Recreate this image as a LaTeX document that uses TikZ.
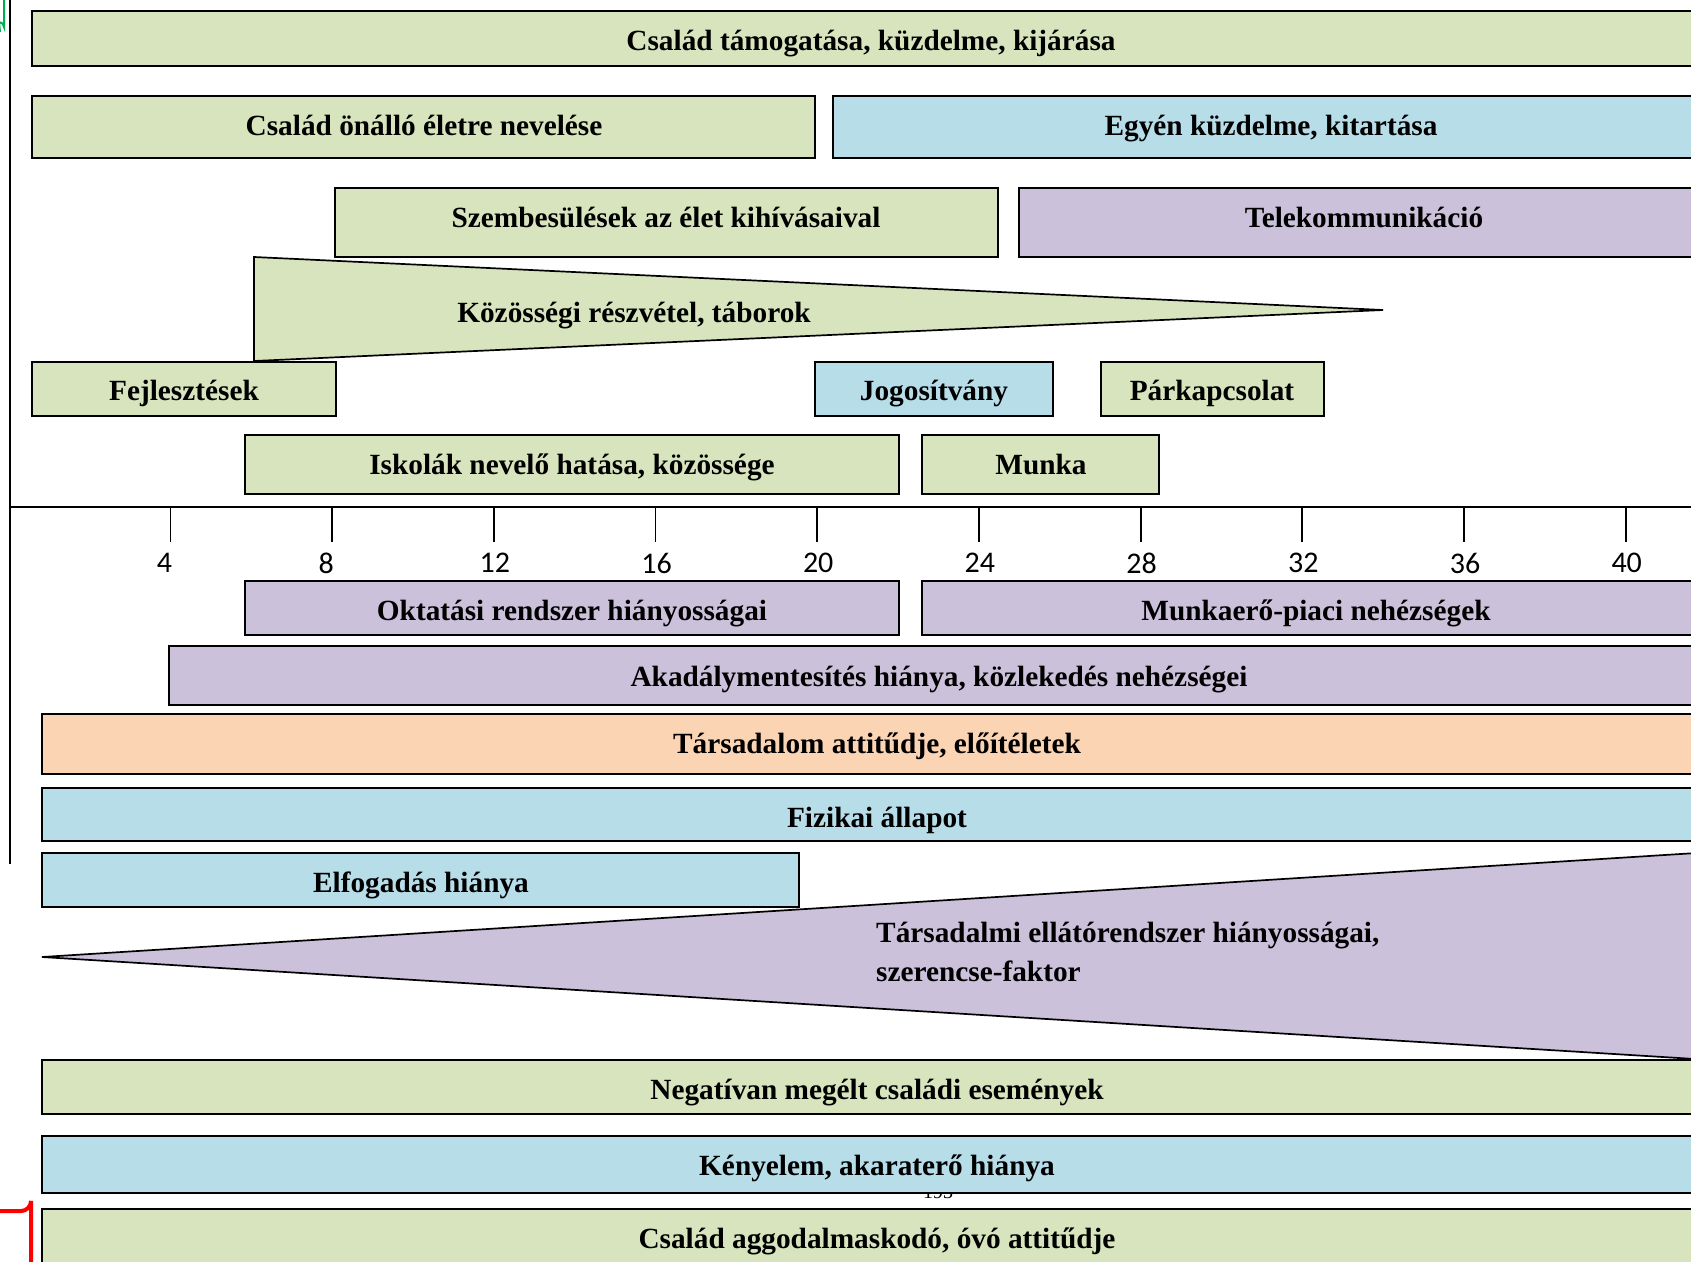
\documentclass[tikz,border=0pt]{standalone}
\usepackage{fontspec}
\usetikzlibrary{calc}
\setmainfont{Liberation Serif}
\newfontfamily\numfont{Carlito}
\definecolor{cgreen}{HTML}{D7E4BD}
\definecolor{cblue}{HTML}{B7DDE8}
\definecolor{cpurple}{HTML}{CCC1DA}
\definecolor{cpeach}{HTML}{FBD4B4}
\definecolor{artgreen}{HTML}{00B050}
\tikzset{
  bar/.style={draw=black, line width=1.7pt, line join=miter},
  lbl/.style={inner sep=0pt, text height=0.66em, text depth=0pt, yshift=-7pt, font=\bfseries\fontsize{29.3}{35}\selectfont},
  ticklbl/.style={inner sep=0pt, font=\numfont\fontsize{30}{33}\selectfont},
  axisline/.style={line width=2.2pt},
}
\begin{document}
\begin{tikzpicture}[x=1pt,y=-1pt]
\useasboundingbox (0,0) rectangle (1691,1261);
\clip (0,0) rectangle (1691,1261);
\fill[white] (0,0) rectangle (1691,1261);

% artefacts at the left edge
\draw[artgreen, line width=2pt] (4,0) -- (4,27) arc[start angle=0, end angle=-90, radius=5] -- (0,32);
\draw[red, line width=4pt] (0,1211) -- (21,1211) arc[start angle=90, end angle=0, radius=10] -- (31,1265);

% page number hidden behind the bars
\node[inner sep=0pt, anchor=base, font=\fontsize{20}{24}\selectfont] (pagenum) at (938,1198) {193};

% left vertical line and time axis
\draw[axisline] (10,0) -- (10,864);
\draw[axisline] (9,507) -- (1700,507);
\foreach \n [count=\i from 0] in {4,8,12,16,20,24,28,32,36,40} {
  \coordinate (tk\n) at ({170.4+\i*161.7},507);
  \draw[line width=1.8pt] (tk\n) -- ++(0,35);
}
\node[ticklbl] (l4) at ($(tk4)+(-6,56)$) {4};
\node[ticklbl] (l8) at ($(tk8)+(-6,56)$) {8};
\foreach \n in {12,16,20,24,28,32,36,40} {
  \node[ticklbl] (l\n) at ($(tk\n)+(1,56)$) {\n};
}

% upper bars
\draw[bar, fill=cgreen] (32,11) rectangle (1710,66);
\draw[bar, fill=cgreen] (32,96) rectangle (815,158);
\draw[bar, fill=cblue] (833,96) rectangle (1710,158);
\draw[bar, fill=cgreen] (335,188) rectangle (998,257);
\draw[bar, fill=cpurple] (1019,188) rectangle (1710,257);
\draw[bar, fill=cgreen] (254,257) -- (254,361) -- (1383,310) -- cycle;
\draw[bar, fill=cgreen] (32,362) rectangle (336,416);
\draw[bar, fill=cblue] (815,362) rectangle (1053,416);
\draw[bar, fill=cgreen] (1101,362) rectangle (1324,416);
\draw[bar, fill=cgreen] (245,435) rectangle (899,494);
\draw[bar, fill=cgreen] (922,435) rectangle (1159,494);

% lower bars
\draw[bar, fill=cpurple] (245,581) rectangle (899,635);
\draw[bar, fill=cpurple] (922,581) rectangle (1710,635);
\draw[bar, fill=cpurple] (169,646) rectangle (1710,705);
\draw[bar, fill=cpeach] (42,714) rectangle (1710,774);
\draw[bar, fill=cblue] (42,788) rectangle (1710,841);
\draw[bar, fill=cblue] (42,853) rectangle (799,907);
\draw[bar, fill=cpurple] (42,957) -- (1760,849) -- (1760,1063) -- cycle;
\draw[bar, fill=cgreen] (42,1060) rectangle (1710,1114);
\draw[bar, fill=cblue] (42,1136) rectangle (1710,1193);
\draw[bar, fill=cgreen] (42,1209) rectangle (1710,1290);

% labels
\node[lbl] (t1) at (871,40) {Család támogatása, küzdelme, kijárása};
\node[lbl] (t2) at (424,125) {Család önálló életre nevelése};
\node[lbl] (t3) at (1271,125) {Egyén küzdelme, kitartása};
\node[lbl] (t4) at (666,217) {Szembesülések az élet kihívásaival};
\node[lbl] (t5) at (1364,217) {Telekommunikáció};
\node[lbl] (t6) at (634,312) {Közösségi részvétel, táborok};
\node[lbl] (t7) at (184,390) {Fejlesztések};
\node[lbl] (t8) at (934,390) {Jogosítvány};
\node[lbl] (t9) at (1212,390) {Párkapcsolat};
\node[lbl] (t10) at (572,464) {Iskolák nevelő hatása, közössége};
\node[lbl] (t11) at (1041,464) {Munka};
\node[lbl] (t12) at (572,610) {Oktatási rendszer hiányosságai};
\node[lbl] (t13) at (1316,610) {Munkaerő-piaci nehézségek};
\node[lbl] (t14) at (939,676) {Akadálymentesítés hiánya, közlekedés nehézségei};
\node[lbl] (t15) at (877,743) {Társadalom attitűdje, előítéletek};
\node[lbl] (t16) at (877,817) {Fizikai állapot};
\node[lbl] (t17) at (421,882) {Elfogadás hiánya};
\node[lbl, anchor=west] (t18a) at (876,932) {Társadalmi ellátórendszer hiányosságai,};
\node[lbl, anchor=west] (t18b) at (876,971) {szerencse-faktor};
\node[lbl] (t19) at (877,1089) {Negatívan megélt családi események};
\node[lbl] (t20) at (877,1165) {Kényelem, akaraterő hiánya};
\node[lbl] (t21) at (877,1238) {Család aggodalmaskodó, óvó attitűdje};
\end{tikzpicture}
\end{document}
